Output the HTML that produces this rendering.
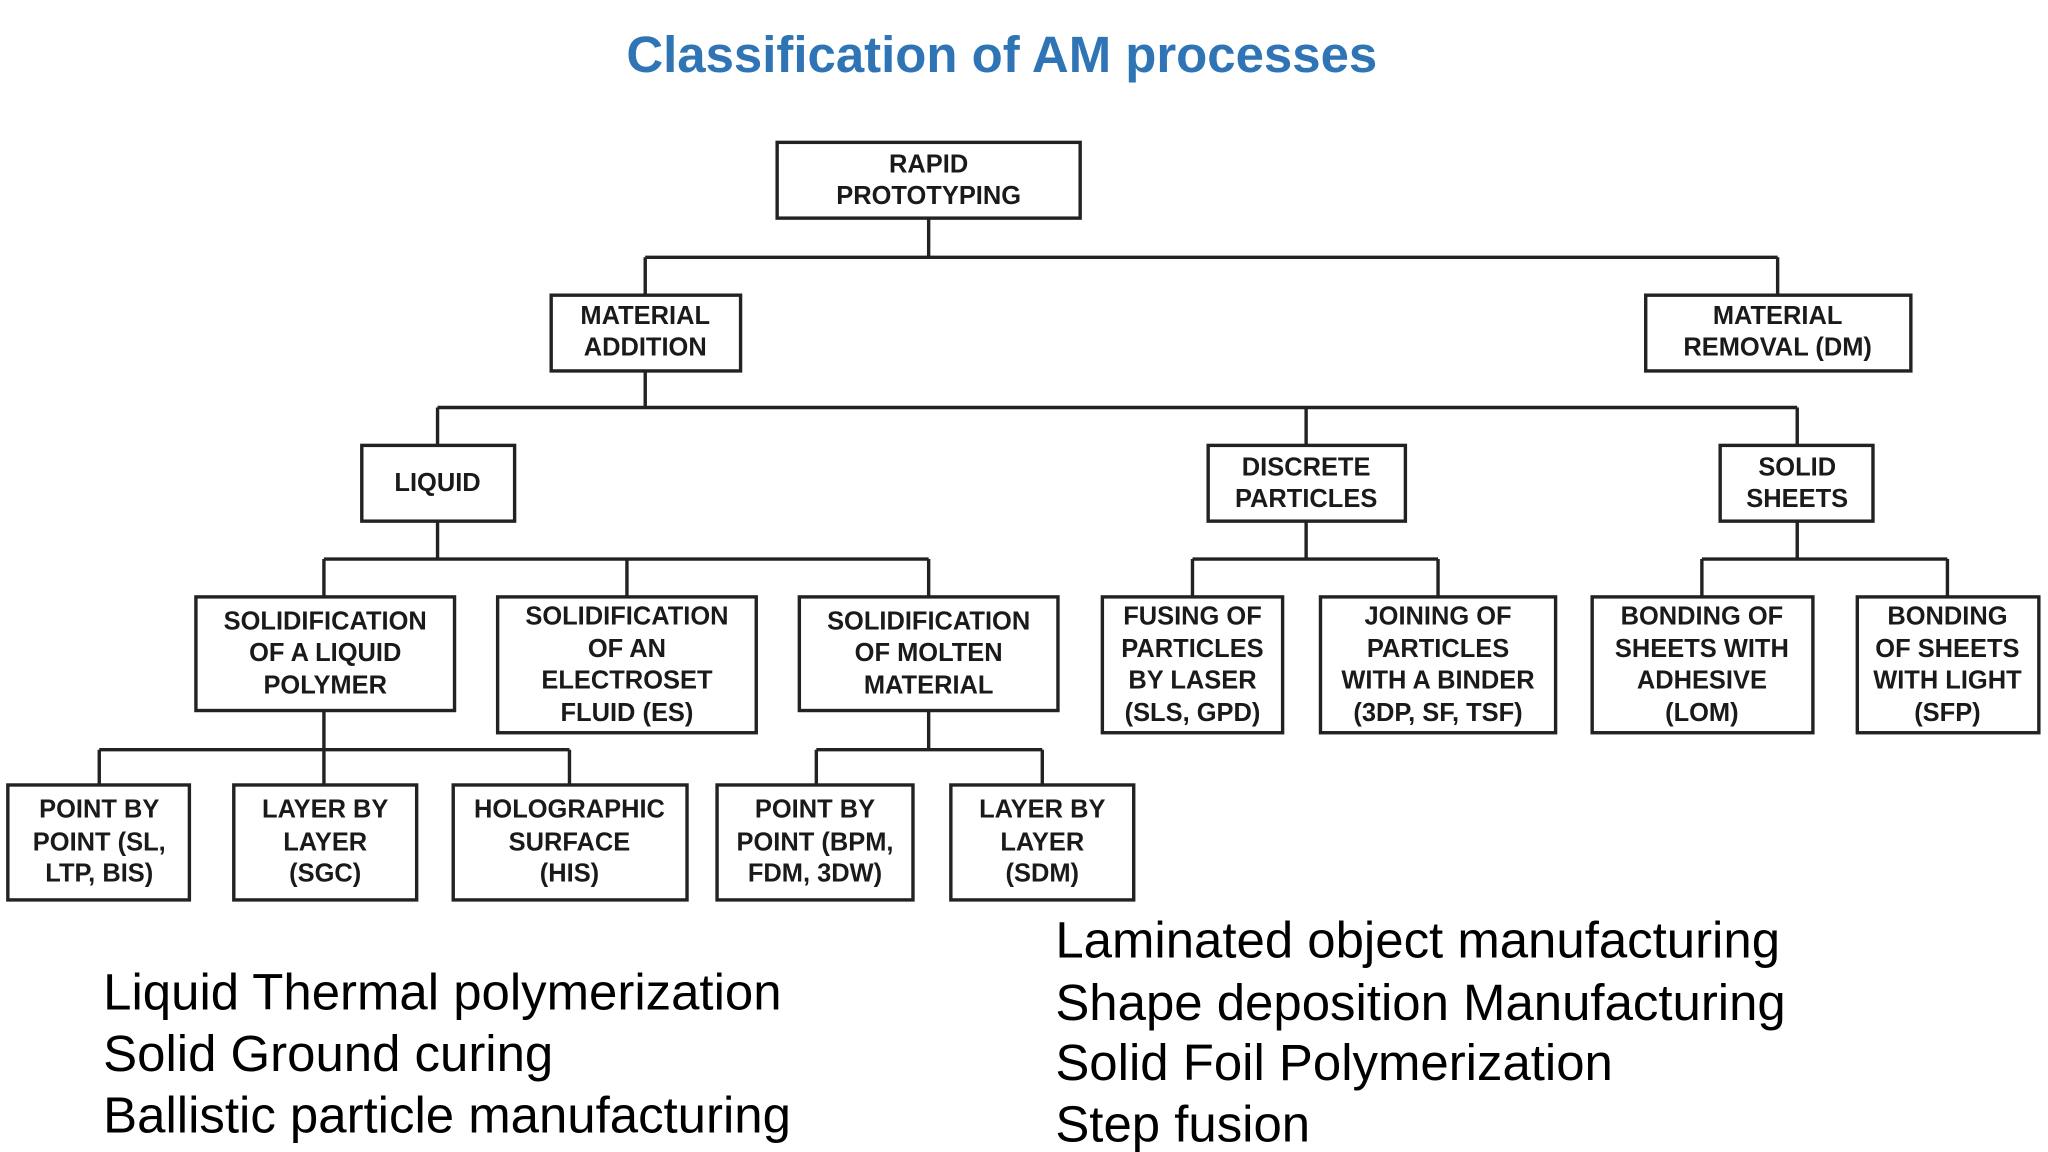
<!DOCTYPE html>
<html><head><meta charset="utf-8"><style>
html,body{margin:0;padding:0;background:#fff;width:2048px;height:1152px;overflow:hidden}
svg{display:block}
.b{fill:#fff;stroke:#222;stroke-width:2.6}
.l{stroke:#222;stroke-width:2.6;fill:none}
.t{font-family:"Liberation Sans",Arial,sans-serif;font-weight:bold;font-size:19.5px;fill:#1a1a1a;text-anchor:middle}
.n{font-family:"Liberation Sans",Arial,sans-serif;font-size:39px;fill:#000}
</style></head><body>
<svg width="2048" height="1152" viewBox="0 0 1568 882" xmlns="http://www.w3.org/2000/svg">
<text x="767" y="55" text-anchor="middle" style="font-family:'Liberation Sans',Arial,sans-serif;font-weight:bold;font-size:39px;fill:#2f75b5">Classification of AM processes</text>
<path class="l" d="M711 167V197M494 197H1361M494 197V226M1361 197V226"/>
<path class="l" d="M494 284V312M335 312H1376M335 312V341M1000 312V341M1376 312V341"/>
<path class="l" d="M335 399V428M248 428H711M248 428V457M480 428V457M711 428V457"/>
<path class="l" d="M1000 399V428M913 428H1101M913 428V457M1101 428V457"/>
<path class="l" d="M1376 399V428M1303 428H1491M1303 428V457M1491 428V457"/>
<path class="l" d="M248 544V574M76 574H436M76 574V601M248 574V601M436 574V601"/>
<path class="l" d="M711 544V574M625 574H798M625 574V601M798 574V601"/>
<rect class="b" x="595" y="109" width="232" height="58"/>
<text class="t" x="711" y="132">RAPID</text><text class="t" x="711" y="156">PROTOTYPING</text>
<rect class="b" x="422" y="226" width="145" height="58"/>
<text class="t" x="494" y="248">MATERIAL</text><text class="t" x="494" y="272">ADDITION</text>
<rect class="b" x="1260" y="226" width="203" height="58"/>
<text class="t" x="1361" y="248">MATERIAL</text><text class="t" x="1361" y="272">REMOVAL (DM)</text>
<rect class="b" x="277" y="341" width="117" height="58"/>
<text class="t" x="335" y="376">LIQUID</text>
<rect class="b" x="925" y="341" width="151" height="58"/>
<text class="t" x="1000" y="364">DISCRETE</text><text class="t" x="1000" y="388">PARTICLES</text>
<rect class="b" x="1317" y="341" width="117" height="58"/>
<text class="t" x="1376" y="364">SOLID</text><text class="t" x="1376" y="388">SHEETS</text>
<rect class="b" x="150" y="457" width="198" height="87"/>
<text class="t" x="249" y="482">SOLIDIFICATION</text><text class="t" x="249" y="506">OF A LIQUID</text><text class="t" x="249" y="531">POLYMER</text>
<rect class="b" x="381" y="457" width="198" height="104"/>
<text class="t" x="480" y="478">SOLIDIFICATION</text><text class="t" x="480" y="503">OF AN</text><text class="t" x="480" y="527">ELECTROSET</text><text class="t" x="480" y="552">FLUID (ES)</text>
<rect class="b" x="612" y="457" width="198" height="87"/>
<text class="t" x="711" y="482">SOLIDIFICATION</text><text class="t" x="711" y="506">OF MOLTEN</text><text class="t" x="711" y="531">MATERIAL</text>
<rect class="b" x="844" y="457" width="138" height="104"/>
<text class="t" x="913" y="478">FUSING OF</text><text class="t" x="913" y="503">PARTICLES</text><text class="t" x="913" y="527">BY LASER</text><text class="t" x="913" y="552">(SLS, GPD)</text>
<rect class="b" x="1011" y="457" width="180" height="104"/>
<text class="t" x="1101" y="478">JOINING OF</text><text class="t" x="1101" y="503">PARTICLES</text><text class="t" x="1101" y="527">WITH A BINDER</text><text class="t" x="1101" y="552">(3DP, SF, TSF)</text>
<rect class="b" x="1219" y="457" width="169" height="104"/>
<text class="t" x="1303" y="478">BONDING OF</text><text class="t" x="1303" y="503">SHEETS WITH</text><text class="t" x="1303" y="527">ADHESIVE</text><text class="t" x="1303" y="552">(LOM)</text>
<rect class="b" x="1422" y="457" width="139" height="104"/>
<text class="t" x="1491" y="478">BONDING</text><text class="t" x="1491" y="503">OF SHEETS</text><text class="t" x="1491" y="527">WITH LIGHT</text><text class="t" x="1491" y="552">(SFP)</text>
<rect class="b" x="6" y="601" width="139" height="88"/>
<text class="t" x="76" y="626">POINT BY</text><text class="t" x="76" y="651">POINT (SL,</text><text class="t" x="76" y="675">LTP, BIS)</text>
<rect class="b" x="179" y="601" width="140" height="88"/>
<text class="t" x="249" y="626">LAYER BY</text><text class="t" x="249" y="651">LAYER</text><text class="t" x="249" y="675">(SGC)</text>
<rect class="b" x="347" y="601" width="179" height="88"/>
<text class="t" x="436" y="626">HOLOGRAPHIC</text><text class="t" x="436" y="651">SURFACE</text><text class="t" x="436" y="675">(HIS)</text>
<rect class="b" x="549" y="601" width="150" height="88"/>
<text class="t" x="624" y="626">POINT BY</text><text class="t" x="624" y="651">POINT (BPM,</text><text class="t" x="624" y="675">FDM, 3DW)</text>
<rect class="b" x="728" y="601" width="140" height="88"/>
<text class="t" x="798" y="626">LAYER BY</text><text class="t" x="798" y="651">LAYER</text><text class="t" x="798" y="675">(SDM)</text>
<text class="n" x="79" y="773">Liquid Thermal polymerization</text>
<text class="n" x="79" y="820">Solid Ground curing</text>
<text class="n" x="79" y="867">Ballistic particle manufacturing</text>
<text class="n" x="808" y="733">Laminated object manufacturing</text>
<text class="n" x="808" y="781">Shape deposition Manufacturing</text>
<text class="n" x="808" y="827">Solid Foil Polymerization</text>
<text class="n" x="808" y="874">Step fusion</text>
</svg>
</body></html>
